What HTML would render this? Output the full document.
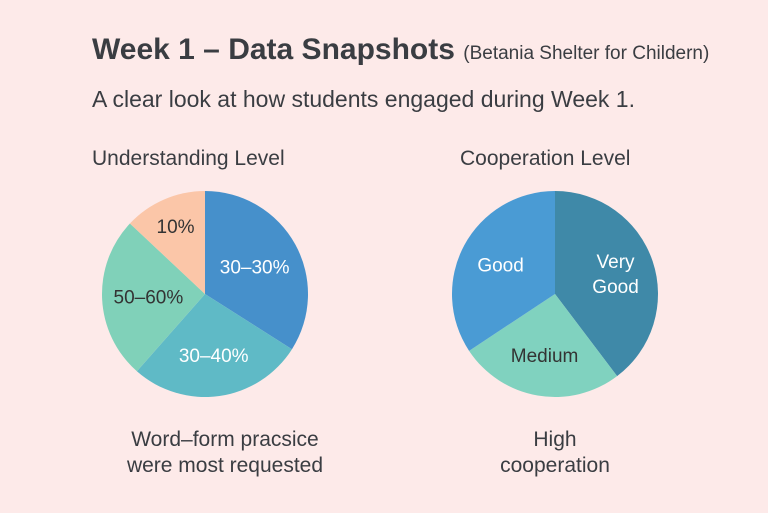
<!DOCTYPE html>
<html><head><meta charset="utf-8"><style>
html,body{margin:0;padding:0;}
body{width:768px;height:513px;background:#fdeae9;font-family:"Liberation Sans",sans-serif;color:#3a3d42;overflow:hidden;position:relative;}
.t{position:absolute;white-space:nowrap;}
</style></head><body>
<div class="t" style="left:92px;top:33px;font-size:30px;font-weight:bold;">Week 1 – Data Snapshots <span style="font-size:19px;font-weight:normal;">(Betania Shelter for Childern)</span></div>
<div class="t" style="left:92px;top:86px;font-size:23px;">A clear look at how students engaged during Week 1.</div>
<div class="t" style="left:92px;top:147px;font-size:21px;">Understanding Level</div>
<div class="t" style="left:460px;top:147px;font-size:21px;">Cooperation Level</div>
<div class="t" style="left:100px;width:250px;text-align:center;top:427px;font-size:21px;line-height:26px;">Word–form pracsice<br>were most requested</div>
<div class="t" style="left:440px;width:230px;text-align:center;top:427px;font-size:21px;line-height:26px;">High<br>cooperation</div>
<svg id="svg" width="768" height="513" style="position:absolute;left:0;top:0"></svg>
<script>
const labels1=["30–30%","30–40%","50–60%","10%"];
const values1=[34,27.5,25.5,13];
const colors1=["#4690cb","#5fbac6","#80d1b9","#fbc6a8"];
const text1=["#fff","#fff","#333","#333"];
const labels2=["Very\nGood","Medium","Good"];
const values2=[39.7,26,34.3];
const colors2=["#3f89a8","#80d2bf","#4a9bd4"];
const text2=["#fff","#333","#fff"];
const svg=document.getElementById('svg');
const NS="http://www.w3.org/2000/svg";
function pie(cx,cy,r,vals,labs,cols,tcols,name,lrf){
  const tot=vals.reduce((a,b)=>a+b,0);let a0=0;
  vals.forEach((v,i)=>{
    const a1=a0+v/tot*2*Math.PI;
    const p=(a)=>[cx+r*Math.sin(a),cy-r*Math.cos(a)];
    const [x0,y0]=p(a0),[x1,y1]=p(a1);
    const path=document.createElementNS(NS,'path');
    path.setAttribute('d',`M${cx},${cy}L${x0},${y0}A${r},${r} 0 ${a1-a0>Math.PI?1:0} 1 ${x1},${y1}Z`);
    path.setAttribute('fill',cols[i]);
    
    
    svg.appendChild(path);
    const am=(a0+a1)/2,lr=r*lrf[i];
    const lx=cx+lr*Math.sin(am),ly=cy-lr*Math.cos(am);
    const lines=labs[i].split("\n");
    lines.forEach((ln,j)=>{
      const t=document.createElementNS(NS,'text');
      t.setAttribute('x',lx);t.setAttribute('y',ly+7+(j-(lines.length-1)/2)*25);
      t.setAttribute('text-anchor','middle');t.setAttribute('font-size','19');
      t.setAttribute('font-family','Liberation Sans, sans-serif');t.setAttribute('fill',tcols[i]);
      t.textContent=ln;
      
      
      svg.appendChild(t);
    });
    a0=a1;
  });
}
pie(205,294,103,values1,labels1,colors1,text1,'understanding',[0.55,0.6,0.55,0.72]);
pie(555,294,103,values2,labels2,colors2,text2,'cooperation',[0.62,0.6,0.6]);
</script>
</body></html>
